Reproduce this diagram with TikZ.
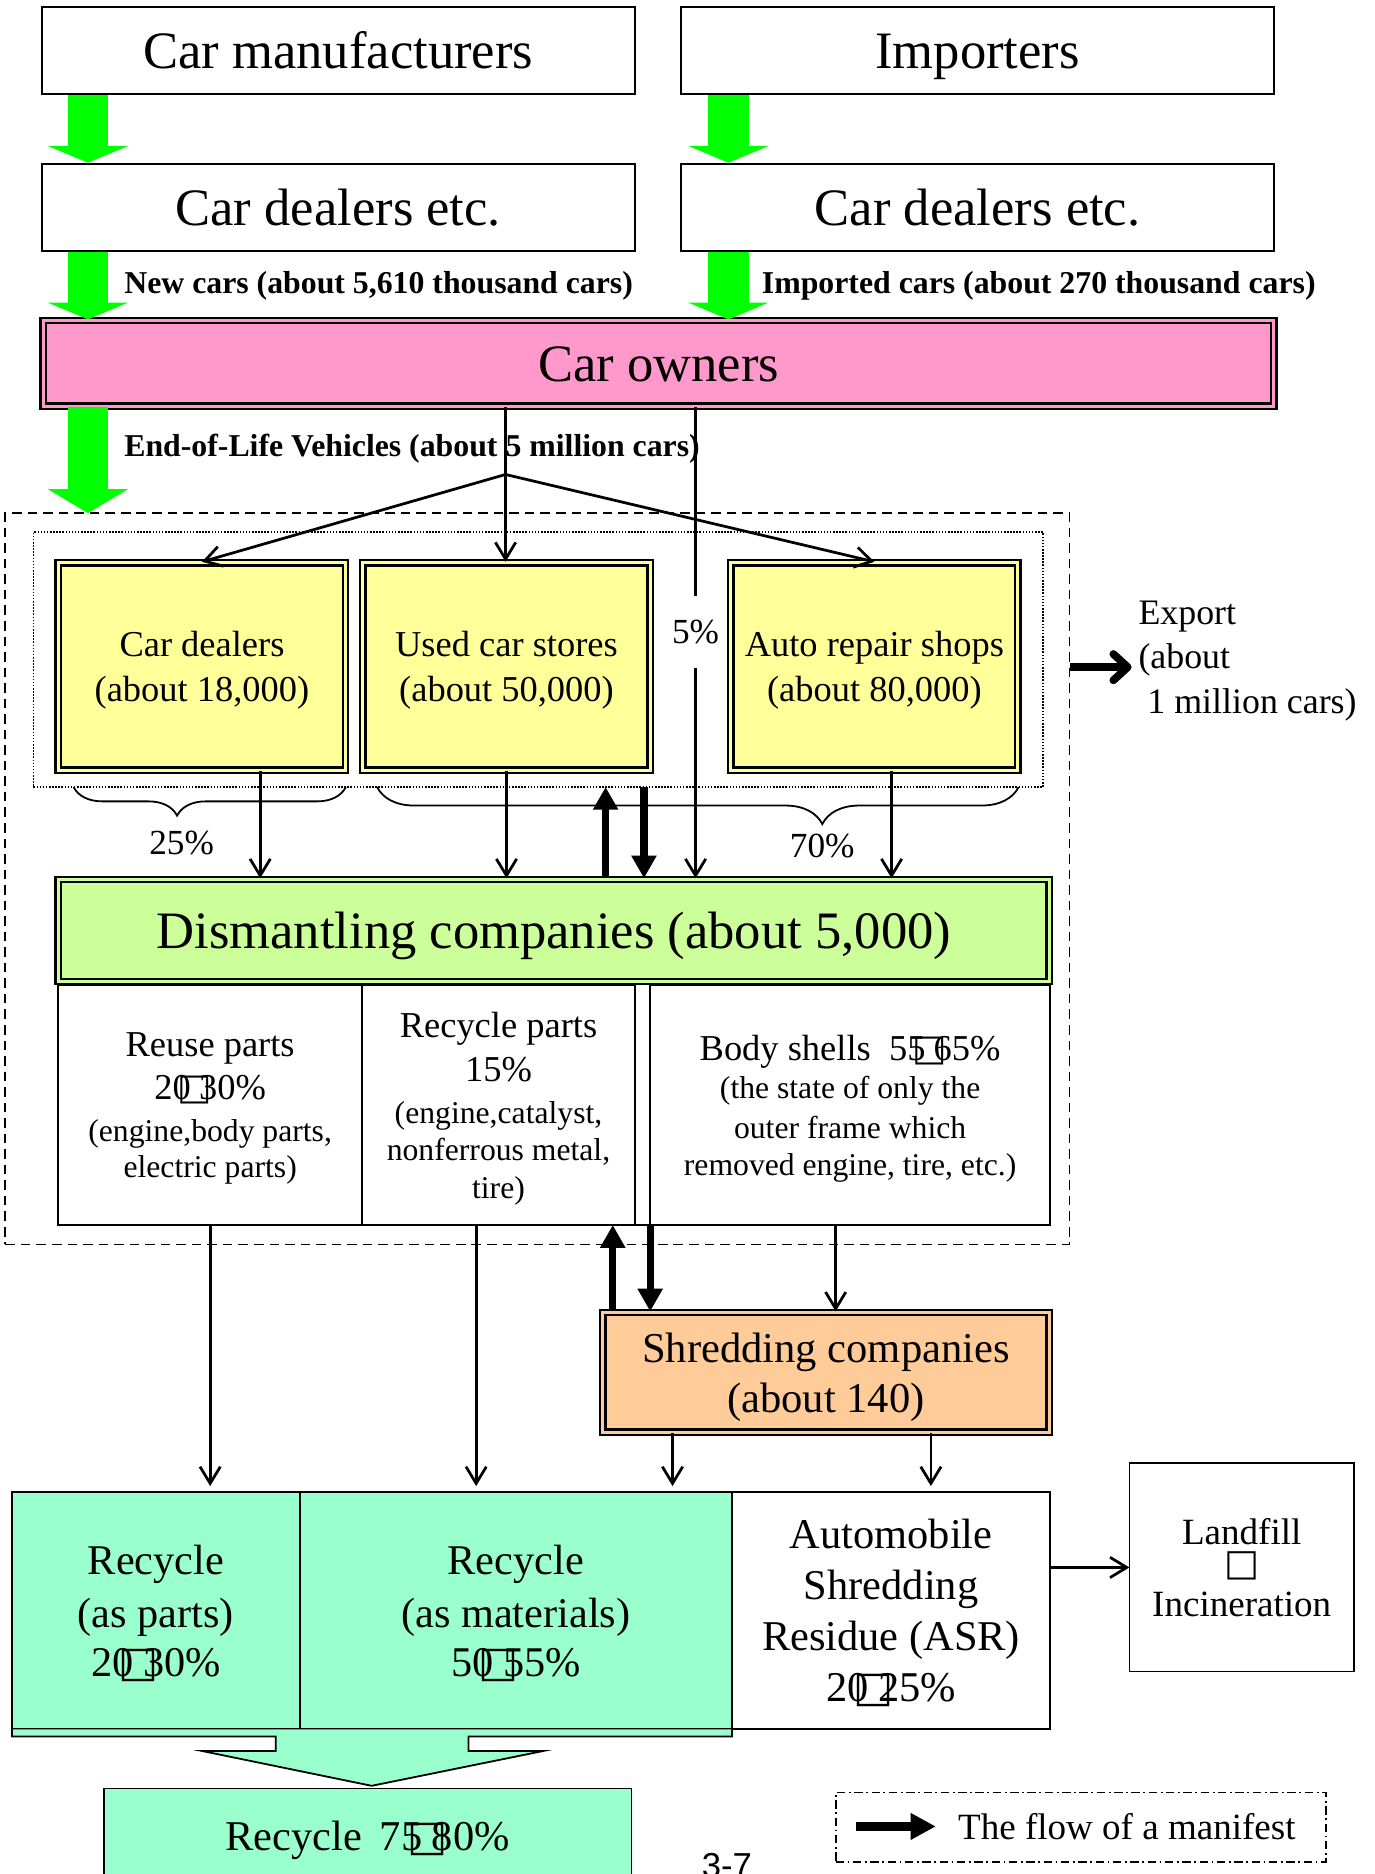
\documentclass[tikz,border=0pt]{standalone}
\usepackage{fontspec}
\setmainfont{Liberation Serif}
\newfontfamily\pagefont{Liberation Sans}
\newfontfamily\boxfont{DejaVu Sans}
\usetikzlibrary{arrows.meta}
\usetikzlibrary{decorations.pathreplacing}
\definecolor{ownerpink}{RGB}{255,153,204}
\definecolor{shopyellow}{RGB}{255,255,153}
\definecolor{dismgreen}{RGB}{204,255,153}
\definecolor{shredorange}{RGB}{255,204,153}
\definecolor{recyclemint}{RGB}{153,255,204}
\definecolor{arrowgreen}{RGB}{0,255,0}
\newcommand{\fsz}[2]{\fontsize{#1}{#2}\selectfont}
\newcommand{\nobox}{{\boxfont\kern-0.36em□\kern-0.36em}}
\newcommand{\cellhead}[1]{{\fsz{30.5}{30.7}#1}}

\begin{document}
\begin{tikzpicture}[x=1pt, y=-1pt, % 1pt per pixel, y downwards
	box/.style={draw, line width=1.7pt, inner sep=0pt, minimum width=496pt, minimum height=73pt, font=\fsz{44}{50}, text height=30pt, text depth=0pt},
	dbox/.style={draw, line width=2pt, double distance=2.5pt, inner sep=0pt, align=center},
	shop/.style={dbox, fill=shopyellow, double=shopyellow, minimum width=240.3pt, minimum height=173.3pt, font=\fsz{30.5}{37.6}, text depth=0pt},
	cell/.style={draw, line width=1.5pt, inner sep=0pt, outer sep=0pt, align=center, minimum height=200.6pt, font=\fsz{26.5}{30.7}, text depth=0pt},
	result/.style={draw, line width=1.5pt, inner sep=0pt, outer sep=0pt, align=center, minimum height=198.5pt, text depth=0pt},
	flow/.style={line width=2.3pt, -{Straight Barb[length=14pt, width=17pt]}},
	manifest/.style={line width=6pt, -{Triangle[length=19pt, width=20pt]}},
	greenflow/.style={arrowgreen, line width=33.6pt, -{Triangle[length=14pt, width=67pt, line width=0pt 0 0]}},
	bold label/.style={anchor=base west, inner sep=0pt, font=\fsz{26.6}{30}\bfseries},
	pct/.style={inner sep=0pt, font=\fsz{29.5}{34}},
	brace/.style={line width=1.5pt, decorate},
	]

	\useasboundingbox (0,0) rectangle (1150,1568);

	% makers, dealers, owners
	\node[box] (maker) at (283,42.5) {Car manufacturers};
	\node[box] (importer) at (818,42.5) {Importers};
	\node[box] (dealerA) at (283,173.5) {Car dealers etc.};
	\node[box] (dealerB) at (818,173.5) {Car dealers etc.};
	\node[dbox, fill=ownerpink, double=ownerpink, minimum width=1029.5pt, minimum height=71.5pt, font=\fsz{44}{50}, text height=30pt, text depth=0pt] (owners) at (551,304) {Car owners};

	\draw[greenflow] ([xshift=-209.4pt]maker.south) -- ([xshift=-209.4pt]dealerA.north);
	\draw[greenflow] ([xshift=-209.4pt]dealerA.south) -- ([xshift=-209.4pt]dealerA.south |- owners.north);
	\draw[greenflow] ([xshift=-208.5pt]importer.south) -- ([xshift=-208.5pt]dealerB.north);
	\draw[greenflow] ([xshift=-208.5pt]dealerB.south) -- ([xshift=-208.5pt]dealerB.south |- owners.north);

	\node[bold label] (newcars) at (103.8,245.3) {New cars (about 5,610 thousand cars)};
	\node[bold label] (imported) at (637.3,245.3) {Imported cars (about 270 thousand cars)};
	\node[bold label] (elv) at (103.8,382) {End-of-Life Vehicles (about 5 million cars)};

	% collection and dismantling
	\node[draw, line width=1.5pt, dash pattern=on 8pt off 5pt, outer sep=0pt, minimum width=890.4pt, minimum height=611.9pt] (dashzone) at (449.7,735.25) {};
	\node[draw, line width=1.2pt, dash pattern=on 1.3pt off 1.3pt, outer sep=0pt, minimum width=844.7pt, minimum height=213.3pt] (shopzone) at (450.35,551.85) {};
	\draw[greenflow, -{Triangle[length=20pt, width=67pt, line width=0pt 0 0]}] ([xshift=-477.4pt]owners.south) -- ([xshift=-477.4pt]owners.south |- dashzone.north);

	\node[shop] (cardealer) at (169,557.7) {Car dealers\\(about 18,000)};
	\node[shop] (usedcar) at (423.8,557.7) {Used car stores\\(about 50,000)};
	\node[shop] (repair) at (731.6,557.7) {Auto repair shops\\(about 80,000)};

	\node[cell, minimum width=254.7pt] (reuse) at (175.85,924.7) {\cellhead{Reuse parts}\\[5.6pt]\cellhead{20\nobox30\%}\\[4.1pt](engine,body parts,\\electric parts)};
	\node[cell, minimum width=227.8pt] (recyc) at (417.1,924.7) {\cellhead{Recycle parts}\\[6.9pt]\cellhead{15\%}\\[4.2pt](engine,catalyst,\\nonferrous metal,\\[1.3pt]tire)};
	\node[cell, minimum width=334.6pt] (body) at (711.3,924.7) {\cellhead{Body shells~~55\nobox65\%}\\[1.4pt](the state of only the\\[2.7pt]outer frame which\\removed engine, tire, etc.)};
	\draw[line width=1.5pt] (recyc.south east) -- (body.south west);

	\node[dbox, fill=dismgreen, double=dismgreen, minimum width=829.1pt, minimum height=85.3pt, font=\fsz{44}{50}, text height=30pt, text depth=0pt] (dismantle) at (463.4,778.5) {Dismantling companies (about 5,000)};

	\coordinate (fork) at (423,397);
	\draw[line width=2.3pt] (owners.south -| fork) -- (fork);
	\draw[flow] (fork) -- (cardealer.north);
	\draw[flow] (fork) -- (fork |- usedcar.north);
	\draw[flow] (fork) -- (repair.north);

	\node[pct, minimum height=60pt] (pctfive) at (582,529) {5\%};
	\draw[line width=2.3pt] (owners.south -| pctfive) -- (pctfive.north);
	\draw[flow] (pctfive.south) -- (pctfive.south |- dismantle.north);

	\draw[brace, decoration={brace, mirror, amplitude=24pt, aspect=0.38}] (61.6,658.5) -- (289.4,658.5);
	\draw[brace, decoration={brace, mirror, amplitude=31pt, aspect=0.694}] (315.5,658.5) -- (852.3,658.5);
	\node[pct] (pct25) at (152,705) {25\%};
	\node[pct] (pct70) at (688,707.5) {70\%};

	\draw[flow] ([xshift=48.7pt]cardealer.south) -- ([xshift=48.7pt]cardealer.south |- dismantle.north);
	\draw[flow] (usedcar.south) -- (usedcar.south |- dismantle.north);
	\draw[flow] ([xshift=14.4pt]repair.south) -- ([xshift=14.4pt]repair.south |- dismantle.north);

	\draw[manifest] ([xshift=43.3pt]dismantle.north) -- ([xshift=43.3pt]dismantle.north |- shopzone.south);
	\draw[manifest] ([xshift=75.4pt]dismantle.north |- shopzone.south) -- ([xshift=75.4pt]dismantle.north);

	\node[inner sep=0pt, align=left, anchor=north west, font=\fsz{30}{37}] (export) at (952.4,502.8) {Export\\(about\\~1 million cars)};
	\draw[line width=6.5pt, -{Straight Barb[length=12pt, width=22pt, round]}, shorten >=5.6pt] ([yshift=-5.2pt]dashzone.east |- export.west) -- ([yshift=-5.2pt]export.west);

	% shredding and results
	\node[dbox, fill=shredorange, double=shredorange, minimum width=373.7pt, minimum height=100pt, font=\fsz{35.6}{41.8}, text depth=0pt] (shred) at (691.1,1148.25) {Shredding companies\\(about 140)};
	\draw[flow] ([xshift=-12.1pt]body.south) -- ([xshift=-12.1pt]body.south |- shred.north);
	\draw[manifest] ([xshift=-178.4pt]shred.north) -- ([xshift=-178.4pt]shred.north |- recyc.south);
	\draw[manifest] (body.south west) -- (body.south west |- shred.north);

	\node[result, fill=recyclemint, minimum width=240.9pt, font=\fsz{35.4}{40.5}] (recparts) at (130.45,1347.65) {Recycle\\[4.1pt](as parts)\\20\nobox30\%};
	\node[result, fill=recyclemint, minimum width=361.5pt, font=\fsz{35.4}{40.5}] (recmat) at (431.65,1347.65) {Recycle\\[4.1pt](as materials)\\50\nobox55\%};
	\node[result, fill=white, minimum width=266.3pt, font=\fsz{35.5}{42.7}] (asr) at (745.55,1347.65) {Automobile\\Shredding\\Residue (ASR)\\20\nobox25\%};
	\node[result, minimum width=187.9pt, minimum height=174.2pt, font=\fsz{31}{27.8}] (landfill) at (1038.95,1311.5) {Landfill\\[-2pt]\nobox\\[6pt]Incineration};

	\draw[flow, shorten >=5pt] (reuse.south) -- (reuse.south |- recparts.north);
	\draw[flow, shorten >=5pt] ([xshift=-18.7pt]recyc.south) -- ([xshift=-18.7pt]recyc.south |- recmat.north);
	\draw[flow, shorten >=5pt] ([xshift=-128.4pt]shred.south) -- ([xshift=-128.4pt]shred.south |- recmat.north);
	\draw[flow, shorten >=5pt] ([xshift=87.8pt]shred.south) -- ([xshift=87.8pt]shred.south |- asr.north);
	\draw[flow] (asr.east |- landfill.west) -- (landfill.west);

	% block arrow to the total
	\filldraw[fill=recyclemint, line width=1.5pt] (recparts.south west) -- ++(0,6.1) -- (230.7,1453) -- (230.7,1465) -- (168.8,1465) -- (311,1494.2) -- (454.8,1465) -- (392,1465) -- (392,1453) -- (recmat.south east |- 0,1453) -- (recmat.south east);
	\node[result, fill=recyclemint, minimum width=441.3pt, minimum height=79.6pt, font=\fsz{35.5}{40}] (recall) at (307.65,1536.3) {Recycle~\,75\nobox80\%};

	% legend
	\node[draw, line width=1.5pt, dash pattern=on 7pt off 3pt on 1.5pt off 3pt, minimum width=410pt, minimum height=58pt] (legend) at (904.2,1528.8) {};
	\node[anchor=west, inner xsep=18.5pt, inner ysep=0pt, font=\fsz{31}{35}] (legendtext) at (783,1528.2) {The flow of a manifest};
	\coordinate (legendtail) at (716.3,1528.2);
	\draw[manifest, line width=7pt, -{Triangle[length=21pt, width=21pt]}] (legendtail) -- (legendtext.west);

	\node[anchor=base west, inner sep=0pt, font=\pagefont\fsz{29}{33}] (pagenum) at (587,1570.8) {3-7};

\end{tikzpicture}
\end{document}
